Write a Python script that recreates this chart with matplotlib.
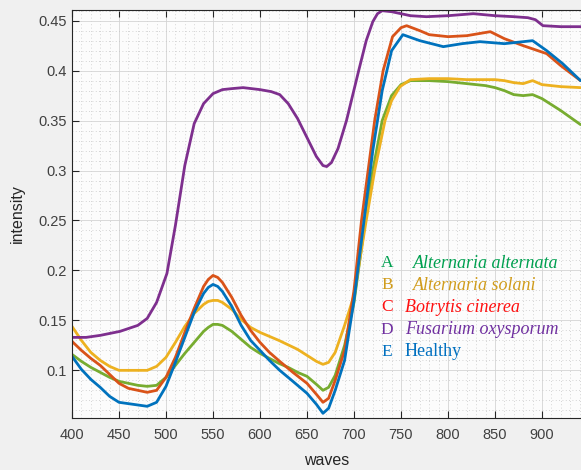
import matplotlib
matplotlib.use("Agg")
import matplotlib.pyplot as plt
from matplotlib.ticker import MultipleLocator

# wavelengths (nm) and intensity per class
waves_A = [400, 410, 420, 430, 440, 450, 460, 470, 480, 490, 500, 510, 520, 530, 540, 545, 550, 555,
           560, 570, 580, 590, 600, 610, 620, 630, 640, 650, 660, 667, 673, 680, 690, 700, 712, 720,
           730, 740, 750, 760, 780, 800, 820, 840, 850, 860, 870, 880, 890, 900, 920, 941]
A = [0.116, 0.109, 0.103, 0.098, 0.093, 0.089, 0.087, 0.085, 0.084, 0.085, 0.093, 0.105, 0.117, 0.128,
     0.139, 0.143, 0.146, 0.146, 0.145, 0.139, 0.131, 0.123, 0.117, 0.112, 0.107, 0.103, 0.098, 0.094,
     0.086, 0.080, 0.083, 0.095, 0.125, 0.168, 0.250, 0.300, 0.350, 0.375, 0.386, 0.390, 0.390, 0.389,
     0.387, 0.385, 0.383, 0.380, 0.376, 0.375, 0.376, 0.372, 0.360, 0.346]

waves_B = [400, 410, 420, 430, 440, 450, 465, 480, 490, 500, 510, 520, 530, 540, 545, 550, 555, 560,
           570, 580, 590, 600, 620, 640, 650, 660, 667, 673, 680, 690, 700, 713, 722, 733, 740, 749,
           760, 780, 800, 820, 850, 860, 870, 880, 890, 900, 920, 941]
B = [0.144, 0.130, 0.118, 0.110, 0.104, 0.100, 0.100, 0.100, 0.104, 0.113, 0.128, 0.144, 0.157, 0.166,
     0.169, 0.170, 0.170, 0.168, 0.161, 0.151, 0.143, 0.138, 0.130, 0.121, 0.115, 0.109, 0.106, 0.108,
     0.118, 0.145, 0.175, 0.250, 0.300, 0.350, 0.370, 0.384, 0.391, 0.392, 0.392, 0.391, 0.391, 0.390,
     0.388, 0.387, 0.390, 0.386, 0.384, 0.383]

waves_C = [400, 410, 420, 430, 440, 450, 460, 470, 480, 490, 500, 510, 520, 530, 540, 545, 550, 555,
           560, 570, 580, 590, 600, 610, 621, 635, 650, 660, 667, 673, 680, 690, 700, 708, 715, 722,
           731, 741, 750, 756, 770, 780, 800, 820, 845, 860, 880, 905, 920, 941]
C = [0.129, 0.120, 0.112, 0.105, 0.096, 0.087, 0.082, 0.080, 0.078, 0.080, 0.093, 0.113, 0.138, 0.162,
     0.184, 0.191, 0.195, 0.193, 0.188, 0.173, 0.155, 0.140, 0.128, 0.118, 0.109, 0.098, 0.087, 0.076,
     0.068, 0.072, 0.090, 0.120, 0.180, 0.250, 0.300, 0.350, 0.400, 0.434, 0.443, 0.445, 0.440, 0.436,
     0.434, 0.435, 0.439, 0.432, 0.425, 0.417, 0.405, 0.390]

waves_D = [400, 415, 430, 451, 470, 480, 490, 501, 510, 520, 530, 540, 550, 560, 570, 582, 600, 612,
           621, 630, 640, 650, 660, 667, 671, 676, 683, 692, 705, 713, 720, 725, 730, 740, 760, 777,
           800, 827, 850, 870, 885, 893, 901, 920, 941]
D = [0.133, 0.133, 0.135, 0.139, 0.145, 0.152, 0.168, 0.197, 0.245, 0.305, 0.347, 0.367, 0.377, 0.381,
     0.382, 0.383, 0.381, 0.379, 0.376, 0.367, 0.352, 0.333, 0.314, 0.305, 0.304, 0.308, 0.322, 0.350,
     0.400, 0.430, 0.449, 0.457, 0.460, 0.459, 0.455, 0.454, 0.455, 0.457, 0.455, 0.454, 0.453, 0.451,
     0.445, 0.444, 0.444]

waves_E = [400, 410, 420, 430, 440, 450, 465, 480, 490, 500, 510, 520, 530, 540, 545, 550, 555, 560,
           570, 580, 590, 600, 610, 621, 635, 650, 660, 667, 673, 680, 690, 700, 710, 720, 730, 740,
           752, 770, 795, 815, 834, 860, 890, 905, 922, 941]
E = [0.114, 0.101, 0.091, 0.083, 0.074, 0.068, 0.066, 0.064, 0.068, 0.084, 0.108, 0.133, 0.158, 0.177,
     0.183, 0.186, 0.184, 0.179, 0.164, 0.145, 0.130, 0.120, 0.110, 0.100, 0.089, 0.077, 0.066, 0.057,
     0.062, 0.080, 0.110, 0.170, 0.245, 0.320, 0.380, 0.420, 0.436, 0.430, 0.424, 0.427, 0.429, 0.427,
     0.430, 0.420, 0.407, 0.390]

line_colors = ["#77AC30", "#EDB120", "#D95319", "#7E2F8E", "#0072BD"]
letters = ["A", "B", "C", "D", "E"]
names = ["Alternaria alternata", "Alternaria solani", "Botrytis cinerea", "Fusarium oxysporum", "Healthy"]
text_colors = ["#00A050", "#D09C1C", "#FF1010", "#7030A0", "#0070C0"]

xticks = [400, 450, 500, 550, 600, 650, 700, 750, 800, 850, 900]
yticks = [0.1, 0.15, 0.2, 0.25, 0.3, 0.35, 0.4, 0.45]

plt.rcParams['font.family'] = ['Liberation Sans', 'DejaVu Sans']

fig = plt.figure(figsize=(5.81, 4.70), dpi=100, facecolor="#f0f0f0")
ax = fig.add_axes([72/581, 52/470, 1 - 72/581, 408/470])
ax.set_facecolor("#fcfcfc")

for wv, vals, col in [(waves_A, A, line_colors[0]), (waves_B, B, line_colors[1]),
                      (waves_C, C, line_colors[2]), (waves_D, D, line_colors[3]),
                      (waves_E, E, line_colors[4])]:
    ax.plot(wv, vals, color=col, lw=2.0, solid_capstyle="round", solid_joinstyle="round")

ax.set_xlim(400, 941.5)
ax.set_ylim(0.0523, 0.4607)
ax.set_xticks(xticks)
ax.set_yticks(yticks)
ax.set_yticklabels([f"{v:g}" for v in yticks])
ax.xaxis.set_minor_locator(MultipleLocator(10))
ax.yaxis.set_minor_locator(MultipleLocator(0.01))
ax.grid(True, which="major", color="#d4d4d4", lw=0.6, ls="-")
ax.grid(True, which="minor", color="#c8c8c8", lw=0.6, ls=(0, (1, 3)))
ax.set_axisbelow(True)
ax.tick_params(which="major", direction="in", length=5, width=0.8, top=True, right=False,
               colors="#262626", labelsize=10.5, labelcolor="#404040")
ax.tick_params(which="minor", length=0, top=True)
for s in ["left", "bottom", "top"]:
    ax.spines[s].set_color("#262626")
    ax.spines[s].set_linewidth(0.8)
ax.spines["right"].set_visible(False)
ax.tick_params(axis="x", pad=7)
ax.set_xlabel("waves", fontsize=11.5, color="#262626", labelpad=8)
ax.set_ylabel("intensity", fontsize=11.5, color="#262626", labelpad=10)

for i in range(5):
    y = 263 + i * 22.2
    fig.text(387/581, 1 - y/470, letters[i], color=text_colors[i], fontsize=12.5,
             family="Liberation Serif", va="center", ha="center")
    style = "normal" if names[i] == "Healthy" else "italic"
    xoff = 413 if i < 2 else 405
    fig.text(xoff/581, 1 - y/470, names[i], color=text_colors[i], fontsize=13,
             family="Liberation Serif", style=style, va="center", ha="left")

fig.savefig("out.png", dpi=100, facecolor=fig.get_facecolor())
